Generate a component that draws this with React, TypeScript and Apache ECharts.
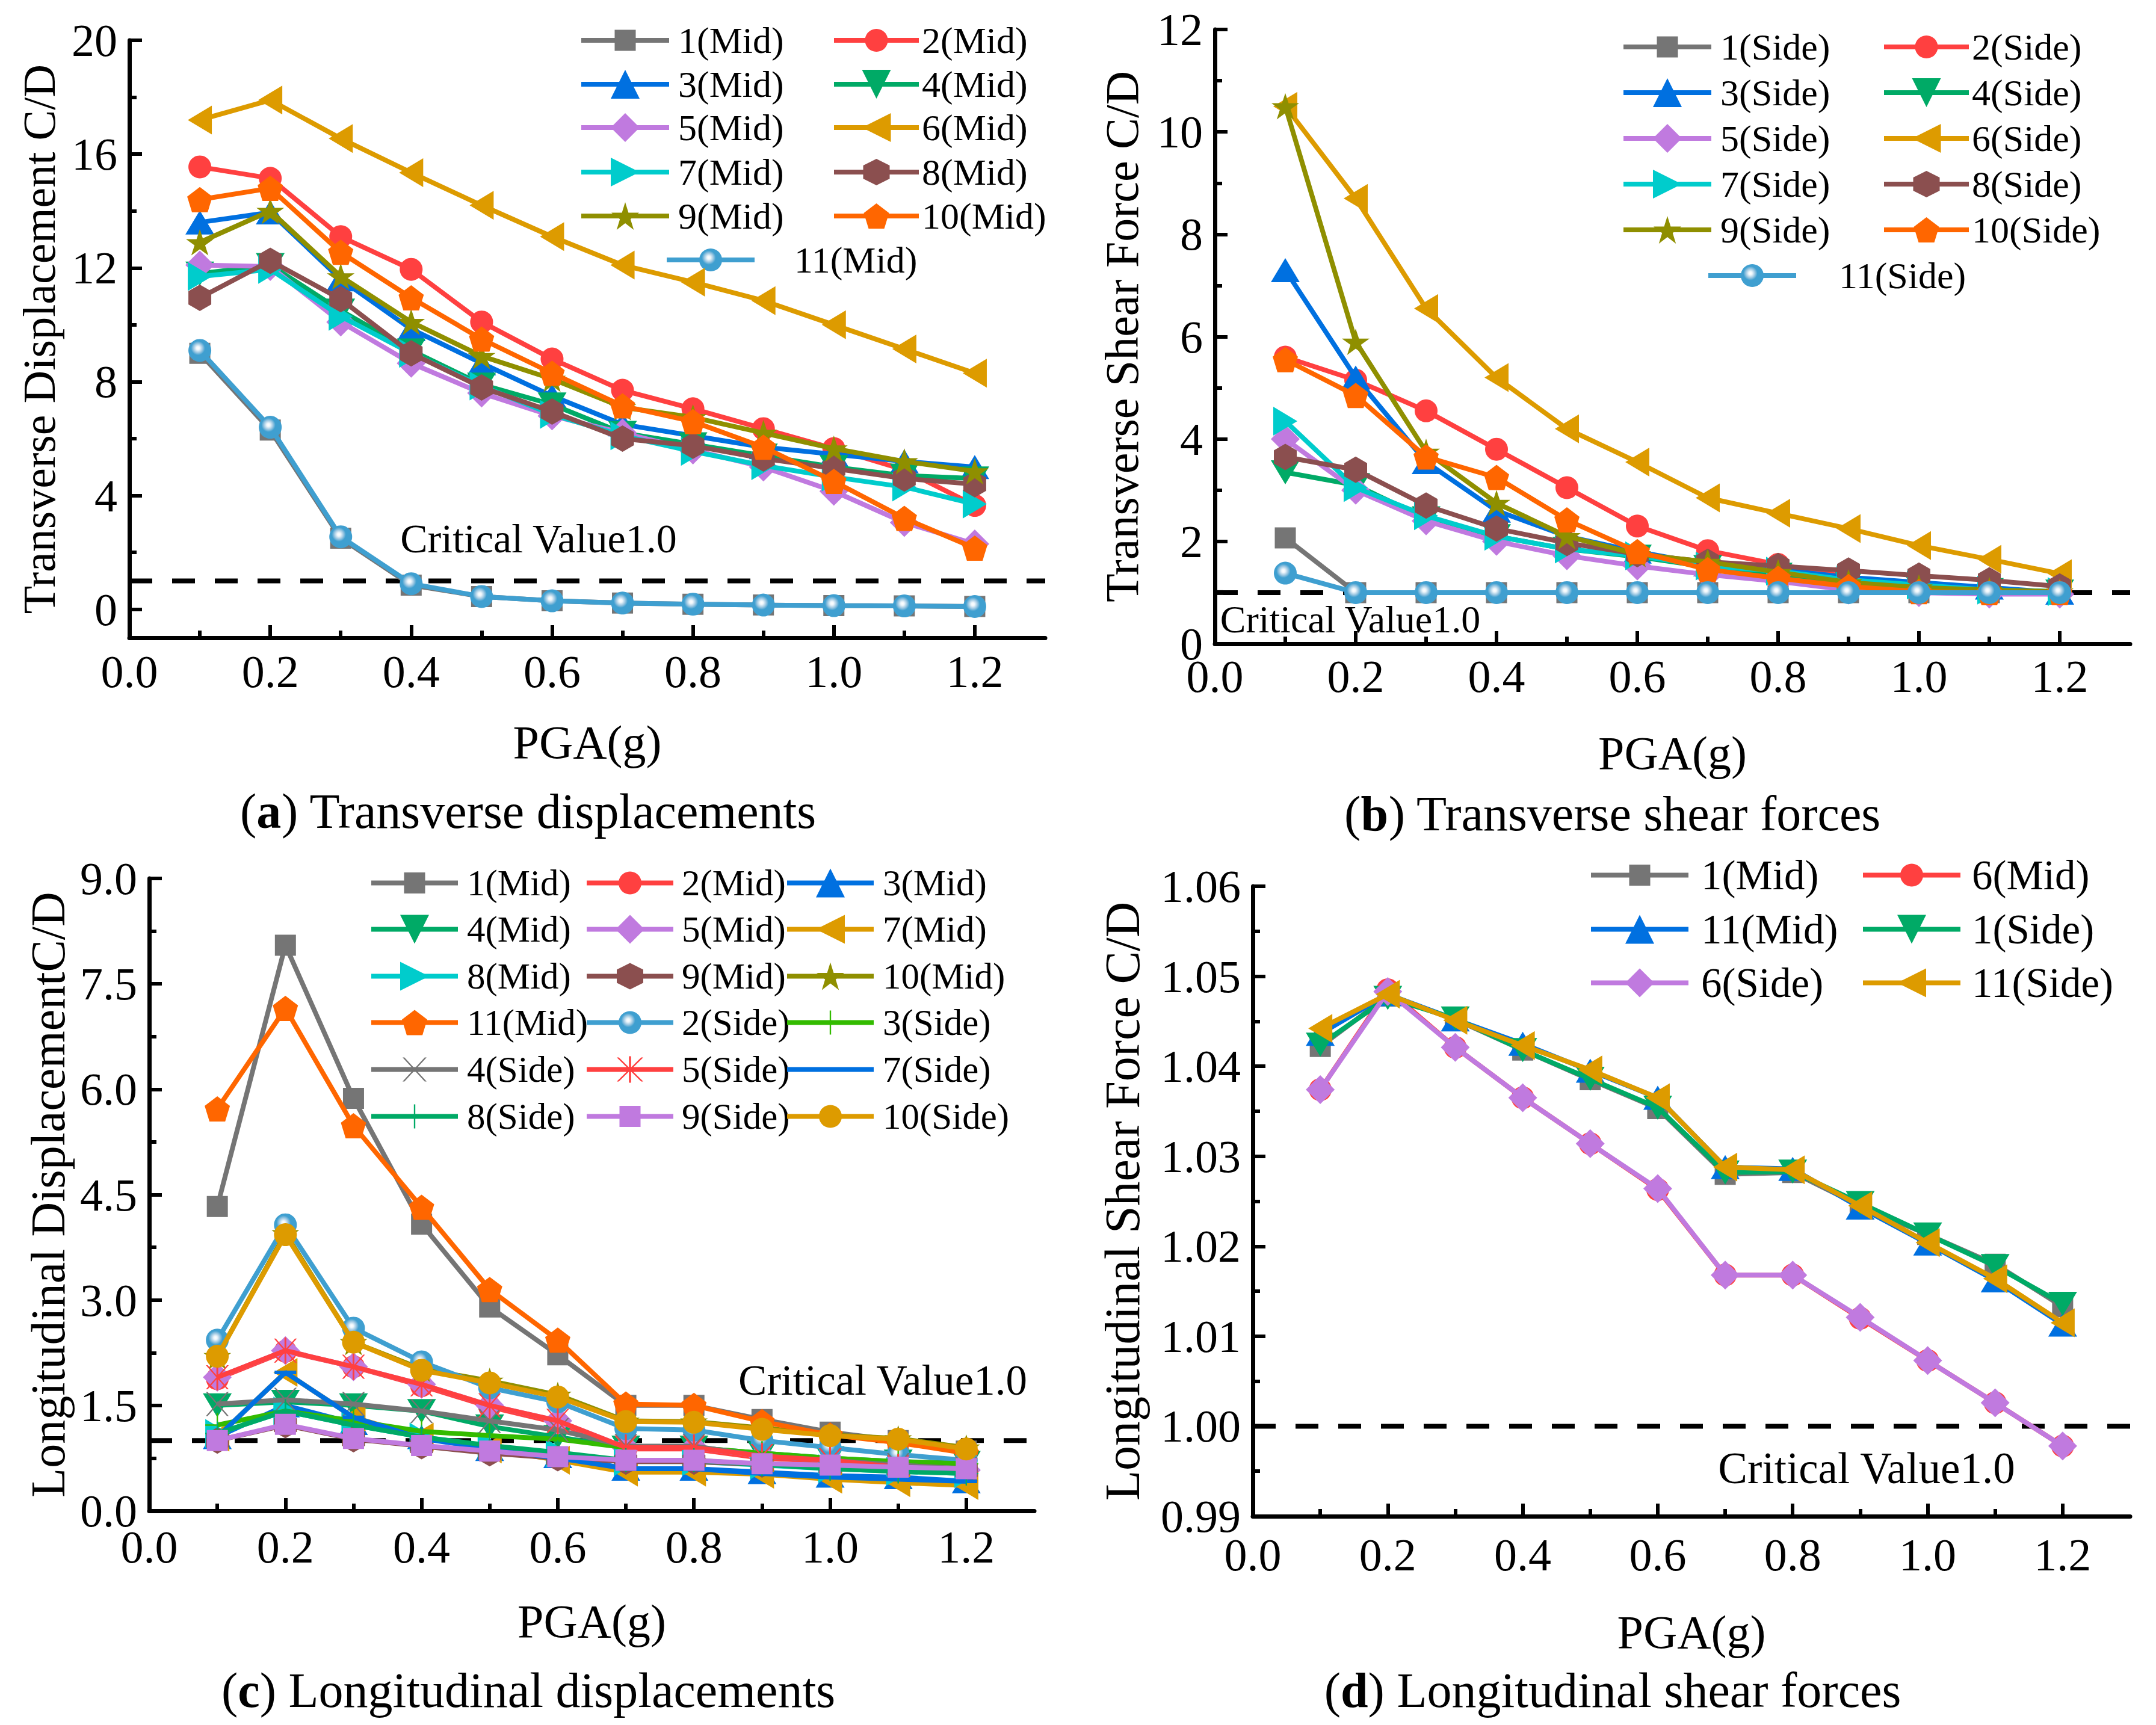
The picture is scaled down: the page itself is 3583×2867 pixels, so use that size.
import React, { useEffect, useRef } from "react";
import * as echarts from "echarts";

const FONT = "'Liberation Serif', 'Times New Roman', serif";

// ---------- data ----------
const pga = [0.1, 0.2, 0.3, 0.4, 0.5, 0.6, 0.7, 0.8, 0.9, 1.0, 1.1, 1.2];
const criticalValue = 1.0;
const xMajor = [0, 0.2, 0.4, 0.6, 0.8, 1.0, 1.2];
const xMinor = [0.1, 0.3, 0.5, 0.7, 0.9, 1.1];

// (a) Transverse displacements
const aNames = ["1(Mid)", "2(Mid)", "3(Mid)", "4(Mid)", "5(Mid)", "6(Mid)", "7(Mid)", "8(Mid)", "9(Mid)", "10(Mid)", "11(Mid)"];
const a1 = [9.0, 6.3, 2.5, 0.85, 0.45, 0.3, 0.22, 0.18, 0.15, 0.13, 0.12, 0.1];
const a2 = [15.55, 15.15, 13.1, 11.95, 10.1, 8.8, 7.7, 7.05, 6.35, 5.65, 4.9, 3.65];
const a3 = [13.6, 13.95, 11.6, 9.85, 8.65, 7.5, 6.5, 6.1, 5.7, 5.45, 5.2, 5.0];
const a4 = [11.8, 12.1, 10.5, 9.1, 7.9, 7.2, 6.2, 5.8, 5.4, 5.0, 4.7, 4.6];
const a5 = [12.1, 12.05, 10.1, 8.65, 7.6, 6.8, 6.2, 5.6, 5.0, 4.15, 3.05, 2.3];
const a6 = [17.2, 17.9, 16.55, 15.35, 14.2, 13.1, 12.1, 11.5, 10.85, 10.0, 9.15, 8.3];
const a7 = [11.7, 11.95, 10.3, 9.0, 7.85, 6.85, 6.1, 5.55, 5.05, 4.65, 4.3, 3.7];
const a8 = [10.95, 12.25, 10.9, 9.0, 7.8, 6.95, 6.0, 5.75, 5.3, 4.95, 4.6, 4.4];
const a9 = [12.9, 14.0, 11.7, 10.1, 8.9, 8.1, 7.1, 6.75, 6.2, 5.65, 5.2, 4.85];
const a10 = [14.4, 14.8, 12.55, 10.95, 9.5, 8.3, 7.15, 6.6, 5.7, 4.5, 3.2, 2.15];
const a11 = [9.1, 6.4, 2.55, 0.9, 0.45, 0.3, 0.22, 0.18, 0.15, 0.13, 0.12, 0.1];
const aValues = [a1, a2, a3, a4, a5, a6, a7, a8, a9, a10, a11];
const aYMajor = [0, 4, 8, 12, 16, 20];
const aYMinor = [2, 6, 10, 14, 18];

// (b) Transverse shear forces
const bNames = ["1(Side)", "2(Side)", "3(Side)", "4(Side)", "5(Side)", "6(Side)", "7(Side)", "8(Side)", "9(Side)", "10(Side)", "11(Side)"];
const b1 = [2.07, 1.0, 1.0, 1.0, 1.0, 1.0, 1.0, 1.0, 1.0, 1.0, 1.0, 1.0];
const b2 = [5.6, 5.15, 4.55, 3.8, 3.05, 2.3, 1.82, 1.55, 1.3, 1.1, 1.02, 1.0];
const b3 = [7.3, 5.2, 3.55, 2.6, 2.1, 1.8, 1.55, 1.45, 1.3, 1.2, 1.1, 1.0];
const b4 = [3.35, 3.1, 2.45, 2.1, 1.85, 1.7, 1.5, 1.35, 1.2, 1.12, 1.05, 1.02];
const b5 = [4.0, 3.0, 2.4, 2.0, 1.72, 1.52, 1.35, 1.22, 1.05, 1.0, 0.97, 0.97];
const b6 = [10.5, 8.7, 6.55, 5.2, 4.2, 3.55, 2.85, 2.55, 2.25, 1.92, 1.65, 1.37];
const b7 = [4.35, 3.05, 2.5, 2.1, 1.85, 1.72, 1.52, 1.42, 1.25, 1.15, 1.05, 1.02];
const b8 = [3.65, 3.4, 2.7, 2.25, 1.97, 1.75, 1.6, 1.52, 1.43, 1.33, 1.24, 1.12];
const b9 = [10.5, 5.9, 3.75, 2.75, 2.1, 1.75, 1.6, 1.4, 1.2, 1.1, 1.05, 1.02];
const b10 = [5.55, 4.85, 3.65, 3.25, 2.42, 1.8, 1.45, 1.28, 1.12, 1.02, 1.0, 1.0];
const b11 = [1.38, 1.0, 1.0, 1.0, 1.0, 1.0, 1.0, 1.0, 1.0, 1.0, 1.0, 1.0];
const bValues = [b1, b2, b3, b4, b5, b6, b7, b8, b9, b10, b11];
const bYMajor = [0, 2, 4, 6, 8, 10, 12];
const bYMinor = [1, 3, 5, 7, 9, 11];

// (c) Longitudinal displacements
const cNames = ["1(Mid)", "2(Mid)", "3(Mid)", "4(Mid)", "5(Mid)", "7(Mid)", "8(Mid)", "9(Mid)", "10(Mid)", "11(Mid)", "2(Side)", "3(Side)", "4(Side)", "5(Side)", "7(Side)", "8(Side)", "9(Side)", "10(Side)"];
const c1M = [4.33, 8.05, 5.87, 4.08, 2.9, 2.22, 1.5, 1.5, 1.3, 1.12, 1.0, 0.85];
const c2M = [1.88, 2.27, 2.05, 1.78, 1.48, 1.25, 0.88, 0.88, 0.75, 0.7, 0.62, 0.55];
const c3M = [1.05, 1.5, 1.25, 1.05, 0.88, 0.78, 0.6, 0.6, 0.55, 0.5, 0.48, 0.42];
const c4M = [1.5, 1.55, 1.5, 1.42, 1.2, 1.05, 0.9, 0.9, 0.82, 0.75, 0.7, 0.68];
const c5M = [1.9, 2.28, 2.05, 1.8, 1.5, 1.28, 0.9, 0.9, 0.78, 0.72, 0.62, 0.58];
const c7M = [1.05, 1.97, 1.33, 1.05, 0.88, 0.72, 0.55, 0.55, 0.52, 0.45, 0.4, 0.36];
const c8M = [1.1, 1.42, 1.22, 1.05, 0.92, 0.82, 0.7, 0.7, 0.65, 0.6, 0.56, 0.53];
const c9M = [1.0, 1.22, 1.02, 0.92, 0.82, 0.75, 0.7, 0.7, 0.66, 0.63, 0.6, 0.58];
const c10M = [2.2, 3.95, 2.4, 2.02, 1.85, 1.65, 1.28, 1.27, 1.18, 1.08, 1.03, 0.9];
const c11M = [5.72, 7.15, 5.48, 4.32, 3.15, 2.43, 1.52, 1.5, 1.27, 1.08, 0.97, 0.82];
const c2S = [2.43, 4.07, 2.6, 2.12, 1.75, 1.55, 1.17, 1.15, 1.0, 0.9, 0.8, 0.72];
const c3S = [1.22, 1.42, 1.28, 1.13, 1.07, 1.02, 0.9, 0.9, 0.82, 0.75, 0.7, 0.67];
const c4S = [1.52, 1.58, 1.52, 1.42, 1.28, 1.15, 0.92, 0.92, 0.78, 0.72, 0.65, 0.6];
const c5S = [1.9, 2.28, 2.05, 1.8, 1.5, 1.28, 0.9, 0.9, 0.78, 0.72, 0.62, 0.58];
const c7S = [1.05, 1.97, 1.33, 1.03, 0.88, 0.75, 0.6, 0.6, 0.53, 0.48, 0.45, 0.42];
const c8S = [1.1, 1.42, 1.22, 1.05, 0.93, 0.83, 0.72, 0.72, 0.66, 0.6, 0.56, 0.53];
const c9S = [1.0, 1.23, 1.03, 0.93, 0.85, 0.77, 0.72, 0.72, 0.67, 0.65, 0.62, 0.6];
const c10S = [2.2, 3.93, 2.4, 2.0, 1.82, 1.62, 1.27, 1.26, 1.16, 1.07, 1.02, 0.88];
const cValues = [c1M, c2M, c3M, c4M, c5M, c7M, c8M, c9M, c10M, c11M, c2S, c3S, c4S, c5S, c7S, c8S, c9S, c10S];
const cYMajor = [0, 1.5, 3, 4.5, 6, 7.5, 9];
const cYMinor = [0.75, 2.25, 3.75, 5.25, 6.75, 8.25];

// (d) Longitudinal shear forces
const dNames = ["1(Mid)", "6(Mid)", "11(Mid)", "1(Side)", "6(Side)", "11(Side)"];
const d1M = [1.0422, 1.0478, 1.0452, 1.0418, 1.0385, 1.0353, 1.028, 1.0282, 1.0245, 1.0213, 1.018, 1.0133];
const d6M = [1.0374, 1.0485, 1.0421, 1.0365, 1.0314, 1.0263, 1.0168, 1.0168, 1.012, 1.0073, 1.0026, 0.9978];
const d11M = [1.0436, 1.048, 1.0452, 1.0425, 1.0395, 1.0365, 1.0288, 1.0286, 1.0243, 1.0203, 1.0162, 1.0113];
const d1S = [1.0424, 1.0476, 1.0453, 1.0418, 1.0386, 1.0354, 1.0282, 1.0283, 1.0248, 1.0213, 1.0178, 1.0136];
const d6S = [1.0374, 1.0483, 1.0421, 1.0365, 1.0314, 1.0264, 1.0168, 1.0168, 1.0121, 1.0073, 1.0026, 0.9978];
const d11S = [1.0442, 1.048, 1.0451, 1.0423, 1.0396, 1.0365, 1.0288, 1.0285, 1.0245, 1.0204, 1.0164, 1.0115];
const dValues = [d1M, d6M, d11M, d1S, d6S, d11S];
const dYMajor = [0.99, 1.0, 1.01, 1.02, 1.03, 1.04, 1.05, 1.06];
const dYMinor = [0.995, 1.005, 1.015, 1.025, 1.035, 1.045, 1.055];

// ---------- marker styles ----------
const GRAY = "#757575", RED = "#FF4040", BLUE = "#0070E0", GREEN = "#00AA66", PURPLE = "#C07ADF";
const GOLD = "#DD9B00", CYAN = "#00CCCC", BROWN = "#8B4F4F", OLIVE = "#8F8F00", ORANGE = "#FF6600";
const SKY = "#3F9FD0", LIME = "#33BB00";
const ball = {
  type: "radial", x: 0.42, y: 0.4, r: 0.55,
  colorStops: [
    { offset: 0, color: "#ffffff" }, { offset: 0.14, color: "#eef6fb" },
    { offset: 0.36, color: "#9cc7e2" }, { offset: 0.56, color: SKY }, { offset: 1, color: SKY },
  ],
};
const S = {
  square: { symbol: "rect", size: 35 },
  circle: { symbol: "circle", size: 38 },
  up: { symbol: "path://M24 0L48 40H0Z", size: 48 },
  down: { symbol: "path://M0 0H48L24 40Z", size: 48 },
  diamond: { symbol: "path://M24 0L48 24L24 48L0 24Z", size: 48 },
  left: { symbol: "path://M40 0V48L0 24Z", size: 48 },
  right: { symbol: "path://M0 0L40 24L0 48Z", size: 48 },
  hex: { symbol: "path://M19 0L38 11V33L19 44L0 33V11Z", size: 44 },
  star: { symbol: "path://M50 0L61.8 36.2H100L69.1 58.6L80.9 95.1L50 72.5L19.1 95.1L30.9 58.6L0 36.2H38.2Z", size: 46 },
  pent: { symbol: "path://M50 0L100 38L81 100H19L0 38Z", size: 42 },
  plus: { symbol: "path://M-1.2 -20H1.2V-1.2H20V1.2H1.2V20H-1.2V1.2H-20V-1.2H-1.2Z", size: 40 },
  cross: { symbol: "path://M-19 -20L-16 -20L19 20L16 20Z M16 -20L19 -20L-16 20L-19 20Z", size: 40 },
  aster: { symbol: "path://M-1.5 -22H1.5V22H-1.5Z M-19 -20L-16 -20L19 20L16 20Z M16 -20L19 -20L-16 20L-19 20Z", size: 44 },
  dash: { symbol: "path://M0 0H30V5H0Z M15 -12.5L15 -12.5Z M15 17.5L15 17.5Z", size: 36 },
};
const cycle11 = [
  [GRAY, S.square], [RED, S.circle], [BLUE, S.up], [GREEN, S.down], [PURPLE, S.diamond], [GOLD, S.left],
  [CYAN, S.right], [BROWN, S.hex], [OLIVE, S.star], [ORANGE, S.pent], [ball, S.circle],
];
const cycle18 = [
  [GRAY, S.square], [RED, S.circle], [BLUE, S.up], [GREEN, S.down], [PURPLE, S.diamond], [GOLD, S.left],
  [CYAN, S.right], [BROWN, S.hex], [OLIVE, S.star], [ORANGE, S.pent], [ball, S.circle], [LIME, S.plus],
  [GRAY, S.cross], [RED, S.aster], [BLUE, S.dash], [GREEN, S.plus], [PURPLE, S.square], [GOLD, S.circle],
];
const cycle6 = cycle11.slice(0, 6);

const panels = [
  {
    box: [0, 0, 1790, 1420], grid: [215, 67, 1737, 1060], yMin: -1, yMax: 20, yDec: 0,
    yMajor: aYMajor, yMinor: aYMinor, yName: "Transverse Displacement C/D", yFont: 76, yGap: 112,
    xGap: 134, xMargin: 18, names: aNames, values: aValues, styles: cycle11,
    legendFont: 62, lineW: 146,
    legendItems: [
      [962, 67, 15], [1382, 67, 0], [962, 140, 15], [1382, 140, 0], [962, 212, 15], [1382, 212, 0],
      [962, 286, 15], [1382, 286, 0], [962, 359, 15], [1382, 359, 0], [1104, 432, 66],
    ],
    critical: ["Critical Value1.0", 895, 895, 68],
    caption: ["a", "Transverse displacements", 878, 1348],
  },
  {
    box: [1790, 0, 1793, 1420], grid: [2019, 49, 3540, 1070], yMin: 0, yMax: 12, yDec: 0,
    yMajor: bYMajor, yMinor: bYMinor, yName: "Transverse Shear Force C/D", yFont: 78, yGap: 116,
    xGap: 142, xMargin: 16, names: bNames, values: bValues, styles: cycle11,
    legendFont: 62, lineW: 146,
    legendItems: [
      [2694, 78, 15], [3127, 78, 0], [2694, 154, 15], [3127, 154, 0], [2694, 230, 15], [3127, 230, 0],
      [2694, 306, 15], [3127, 306, 0], [2694, 382, 15], [3127, 382, 0], [2835, 458, 71],
    ],
    critical: ["Critical Value1.0", 2244, 1029, 64],
    caption: ["b", "Transverse shear forces", 2680, 1352],
  },
  {
    box: [0, 1380, 1790, 1487], grid: [248, 1460, 1719, 2511], yMin: 0, yMax: 9, yDec: 1,
    yMajor: cYMajor, yMinor: cYMinor, yName: "Longitudinal DisplacementC/D", yFont: 80, yGap: 128,
    xGap: 144, xMargin: 22, names: cNames, values: cValues, styles: cycle18,
    legendFont: 61, lineW: 144,
    legendItems: [
      [613, 1468, 15], [971, 1468, 14], [1304, 1468, 15], [613, 1545, 15], [971, 1545, 14], [1304, 1545, 15],
      [613, 1623, 15], [971, 1623, 14], [1304, 1623, 15], [613, 1700, 15], [971, 1700, 14], [1304, 1700, 15],
      [613, 1778, 15], [971, 1778, 14], [1304, 1778, 15], [613, 1856, 15], [971, 1856, 14], [1304, 1856, 15],
    ],
    critical: ["Critical Value1.0", 1467, 2294, 71],
    caption: ["c", "Longitudinal displacements", 878, 2809],
  },
  {
    box: [1790, 1380, 1793, 1487], grid: [2082, 1473, 3540, 2520], yMin: 0.99, yMax: 1.06, yDec: 2,
    yMajor: dYMajor, yMinor: dYMinor, yName: "Longitudinal Shear Force C/D", yFont: 82, yGap: 176,
    xGap: 153, xMargin: 26, names: dNames, values: dValues, styles: cycle6,
    legendFont: 69, lineW: 162,
    legendItems: [
      [2640, 1455, 21], [3092, 1455, 19], [2640, 1545, 21], [3092, 1545, 19], [2640, 1634, 21], [3092, 1634, 19],
    ],
    critical: ["Critical Value1.0", 3102, 2440, 73],
    caption: ["d", "Longitudinal shear forces", 2680, 2809],
  },
];

function buildOption(p: any) {
  const [ox, oy] = p.box;
  const [gl, gt, gr, gb] = p.grid;
  const axisCommon = { min: 0, max: 1.3, type: "value", position: "bottom", splitLine: { show: false } };
  const yCommon = { min: p.yMin, max: p.yMax, type: "value", position: "left", splitLine: { show: false } };
  const line = { show: true, onZero: false, lineStyle: { color: "#000", width: 7 } };
  const major = (values: number[]) => ({ show: true, inside: true, length: 21, customValues: values, lineStyle: { color: "#000", width: 6 } });
  const minor = (values: number[]) => ({ show: true, inside: true, length: 12, customValues: values, lineStyle: { color: "#000", width: 6 } });
  const labelStyle = { color: "#000", fontFamily: FONT, fontSize: 76 };
  const series: any[] = [
    {
      name: "Critical", type: "line", xAxisIndex: 0, yAxisIndex: 0, showSymbol: false, silent: true, z: 1,
      data: [[0, criticalValue], [1.3, criticalValue]],
      lineStyle: { color: "#000", width: 8, type: [38, 33] },
    },
  ];
  p.names.forEach((name: string, i: number) => {
    const [color, shape] = p.styles[i];
    const lineColor = color === ball ? SKY : color;
    series.push({
      name, type: "line", xAxisIndex: 0, yAxisIndex: 0, z: 2 + i,
      data: pga.map((x, k) => [x, p.values[i][k]]),
      symbol: shape.symbol, symbolSize: shape.size, symbolKeepAspect: true, showAllSymbol: true,
      lineStyle: { color: lineColor, width: 8 },
      itemStyle: { color, opacity: 1 },
    });
  });
  const legend = p.names.map((name: string, i: number) => {
    const [lx, ly, gap] = p.legendItems[i];
    const [color, shape] = p.styles[i];
    return {
      data: [name], selectedMode: false, orient: "horizontal", padding: 0,
      left: lx - ox, top: ly - oy - Math.round(p.legendFont * 0.5),
      itemWidth: p.lineW + Math.min(gap - 5, 0), itemHeight: shape.size / 0.8, itemGap: 0,
      lineStyle: { width: 8, color: color === ball ? SKY : color },
      textStyle: { color: "#000", fontFamily: FONT, fontSize: p.legendFont, padding: [0, 0, 0, Math.max(gap - 5, 0)] },
    };
  });
  const graphic = [
    {
      type: "text", x: p.critical[1] - ox, y: p.critical[2] - oy, silent: true,
      style: { text: p.critical[0], fill: "#000", font: `${p.critical[3]}px ${FONT}`, align: "center", verticalAlign: "middle" },
    },
    {
      type: "text", x: p.caption[2] - ox, y: p.caption[3] - oy, silent: true,
      style: {
        text: `({b|${p.caption[0]}}) ${p.caption[1]}`, fill: "#000", font: `82px ${FONT}`, align: "center", verticalAlign: "middle",
        rich: { b: { fontWeight: "bold", fontSize: 82, fontFamily: FONT, fill: "#000" } },
      },
    },
  ];
  return {
    animation: false,
    backgroundColor: "transparent",
    grid: { left: gl - ox, top: gt - oy, width: gr - gl, height: gb - gt, containLabel: false },
    xAxis: [
      {
        ...axisCommon, axisLine: line, axisTick: major(xMajor),
        axisLabel: { ...labelStyle, margin: p.xMargin, customValues: xMajor, formatter: (v: number) => v.toFixed(1), showMaxLabel: true, showMinLabel: true, hideOverlap: false },
        name: "PGA(g)", nameLocation: "middle", nameGap: p.xGap, nameTextStyle: { color: "#000", fontFamily: FONT, fontSize: 78 },
      },
      { ...axisCommon, axisLine: { show: false, onZero: false }, axisTick: minor(xMinor), axisLabel: { show: false } },
    ],
    yAxis: [
      {
        ...yCommon, axisLine: line, axisTick: major(p.yMajor),
        axisLabel: { ...labelStyle, margin: 20, customValues: p.yMajor, formatter: (v: number) => v.toFixed(p.yDec), hideOverlap: false },
        name: p.yName, nameLocation: "middle", nameGap: p.yGap, nameTextStyle: { color: "#000", fontFamily: FONT, fontSize: p.yFont },
      },
      { ...yCommon, axisLine: { show: false, onZero: false }, axisTick: minor(p.yMinor), axisLabel: { show: false } },
    ],
    legend,
    series,
    graphic,
  };
}

function Panel({ p }: { p: any }) {
  const ref = useRef<HTMLDivElement>(null);
  useEffect(() => {
    const chart = echarts.init(ref.current, null, { renderer: "svg" });
    chart.setOption(buildOption(p));
    return () => chart.dispose();
  }, [p]);
  const [x, y, w, h] = p.box;
  return <div ref={ref} style={{ position: "absolute", left: x, top: y, width: w, height: h }} />;
}

export default function App() {
  return (
    <div style={{ position: "absolute", left: 0, top: 0, width: 3583, height: 2867, background: "#fff", overflow: "hidden" }}>
      {panels.map((p, i) => <Panel key={i} p={p} />)}
    </div>
  );
}
